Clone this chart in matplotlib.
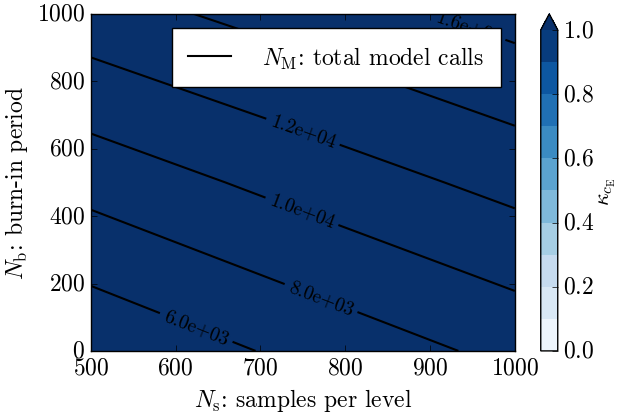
import matplotlib
matplotlib.use("Agg")
import matplotlib.pyplot as plt
from matplotlib.lines import Line2D
import numpy as np

plt.style.use("classic")
plt.rcParams["figure.facecolor"] = "white"
plt.rcParams["savefig.facecolor"] = "white"
plt.rcParams["font.family"] = "serif"
plt.rcParams["font.serif"] = ["cmr10"]
plt.rcParams["mathtext.fontset"] = "cm"
plt.rcParams["axes.unicode_minus"] = False
plt.rcParams["axes.formatter.use_mathtext"] = True
plt.rcParams["font.size"] = 17

# grid of samples per level / burn-in period
Ns = np.array([500, 750, 1000])
Nb = np.array([0, 500, 1000])

# total model calls on the grid (rows: Nb, cols: Ns)
N_M = np.array([
    [4292, 6490, 8548],
    [8717, 10740, 12628],
    [13142, 14910, 16708],
])

# efficiency kappa_cE, above 1 over the whole grid
kappa = np.array([
    [1.05, 1.05, 1.05],
    [1.05, 1.05, 1.05],
    [1.05, 1.05, 1.05],
])

kappa_levels = np.linspace(0.0, 1.0, 11)
call_levels = [6000, 8000, 10000, 12000, 14000, 16000]
label_pos = [(625, 74), (772, 160), (750, 421), (750, 649), (730, 910), (947, 972)]

fig = plt.figure(figsize=(6.18, 4.14), dpi=100)
ax = fig.add_axes([0.147, 0.150, 0.686, 0.814])
cax = fig.add_axes([0.875, 0.150, 0.0275, 0.814])

cf = ax.contourf(Ns, Nb, kappa, levels=kappa_levels, cmap="Blues", extend="max")
cs = ax.contour(Ns, Nb, N_M, levels=call_levels, colors="k", linewidths=1.5)
ax.clabel(cs, fmt="%.1e", fontsize=14, inline=True, manual=label_pos)

cb = fig.colorbar(cf, cax=cax, ticks=[0.0, 0.2, 0.4, 0.6, 0.8, 1.0])
cb.set_label(r"$\kappa_{c_{\rm E}}$", fontsize=16, labelpad=2)
cb.outline.set_linewidth(1.0)
cb.ax.tick_params(direction="in", pad=4)

ax.set_xlim(500, 1000)
ax.set_ylim(0, 1000)
ax.set_xticks([500, 600, 700, 800, 900, 1000])
ax.set_yticks([0, 200, 400, 600, 800, 1000])
ax.set_xlabel(r"$N_{\rm s}$: samples per level")
ax.set_ylabel(r"$N_{\rm b}$: burn-in period")

handle = Line2D([], [], color="k", linewidth=1.5)
ax.legend([handle], [r"$N_{\rm M}$: total model calls"], loc="upper right",
          numpoints=1, fontsize=17, borderaxespad=0.6, borderpad=0.7,
          handlelength=1.8, handletextpad=1.35)

fig.savefig("out.png", dpi=100)
